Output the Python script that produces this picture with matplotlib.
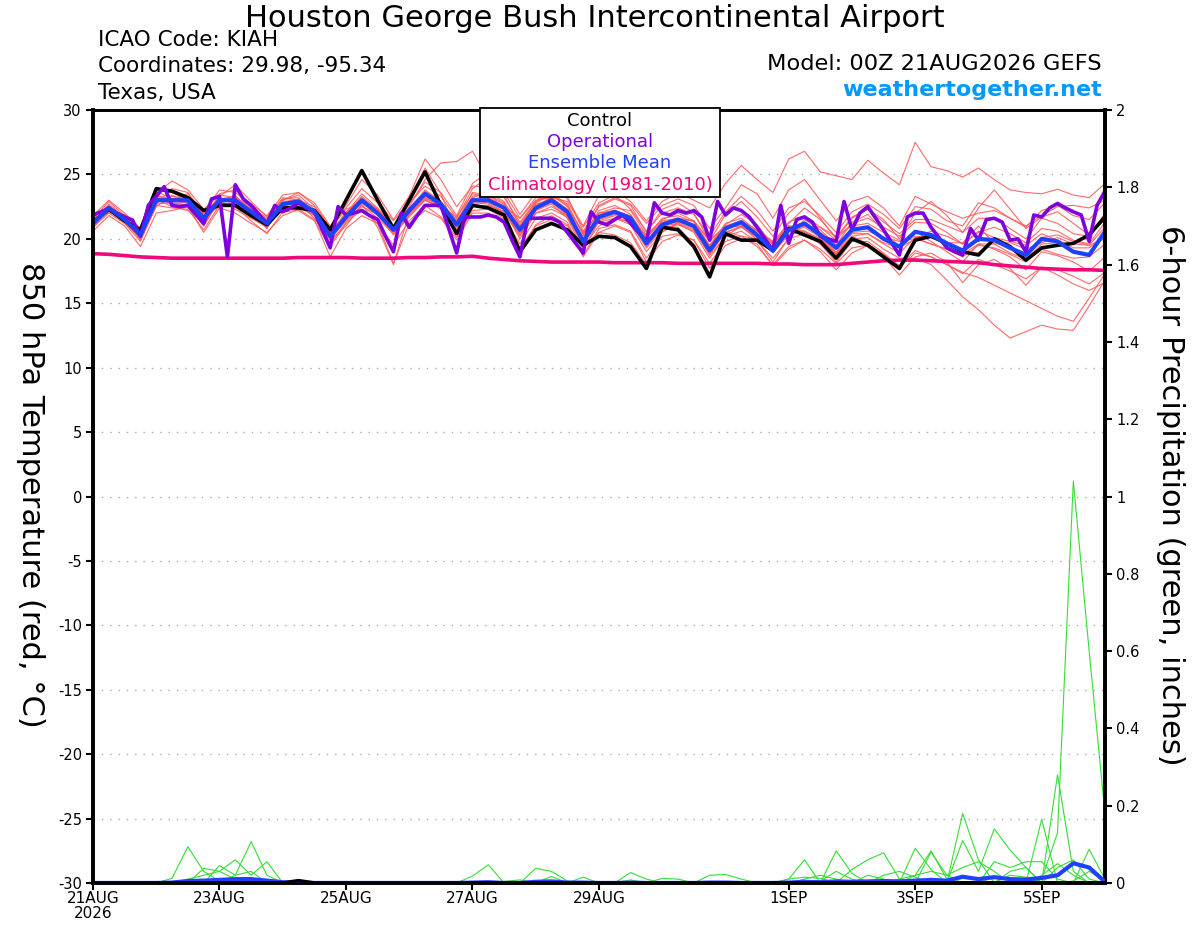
import numpy as np
import matplotlib
matplotlib.use('Agg')
import matplotlib.pyplot as plt
from matplotlib.patches import Rectangle

plt.rcParams['font.family'] = ['DejaVu Sans']
plt.rcParams['axes.unicode_minus'] = False

# forecast hours (6-hourly for ensemble, 3-hourly for operational run)
hours = np.arange(0, 385, 6)
hours_op = np.arange(0, 385, 3)

tick_hours = [0, 48, 96, 144, 192, 264, 312, 360]
tick_labels = ['21AUG\n2026', '23AUG', '25AUG', '27AUG', '29AUG', '1SEP', '3SEP', '5SEP']

# 850 hPa temperature (C)
ens_mean = [21.2, 22.4, 21.5, 20.3, 23.0, 23.0, 23.0, 21.6, 23.0, 23.0, 22.1, 21.2,
            22.7, 22.9, 22.1, 20.2, 21.7, 23.0, 22.0, 20.7, 22.2, 23.5, 22.7, 21.1,
            23.0, 23.0, 22.4, 20.7, 22.4, 23.0, 22.1, 19.8, 21.7, 22.1, 21.6, 19.65,
            21.1, 21.5, 21.0, 19.1, 20.8, 21.3, 20.3, 19.1, 20.7, 21.2, 20.3, 19.3,
            20.7, 20.9, 20.0, 19.4, 20.55, 20.3, 19.65, 19.1, 20.0, 19.9, 19.3, 18.75,
            20.0, 19.8, 19.0, 18.75, 20.55]

control = [21.3, 22.3, 21.4, 20.7, 23.9, 23.7, 23.2, 22.2, 22.6, 22.6, 21.8, 21.1,
           22.4, 22.4, 22.2, 20.7, 23.0, 25.3, 23.0, 20.8, 23.0, 25.2, 22.6, 20.4,
           22.6, 22.4, 21.85, 19.0, 20.7, 21.2, 20.7, 19.5, 20.2, 20.1, 19.4, 17.7,
           20.9, 20.7, 19.4, 17.05, 20.4, 19.9, 19.9, 19.1, 20.8, 20.3, 19.8, 18.5,
           20.0, 19.5, 18.6, 17.7, 19.9, 20.2, 19.65, 19.0, 18.75, 20.0, 19.4, 18.35,
           19.3, 19.5, 19.65, 20.3, 21.7]

climatology = [18.85, 18.8, 18.7, 18.6, 18.55, 18.5, 18.5, 18.5, 18.5, 18.5, 18.5, 18.5,
               18.5, 18.55, 18.55, 18.55, 18.55, 18.5, 18.5, 18.5, 18.55, 18.55, 18.6, 18.6,
               18.65, 18.5, 18.4, 18.3, 18.25, 18.2, 18.2, 18.2, 18.2, 18.15, 18.15, 18.15,
               18.15, 18.1, 18.1, 18.1, 18.1, 18.1, 18.1, 18.05, 18.05, 18.0, 18.0, 18.0,
               18.1, 18.2, 18.3, 18.35, 18.35, 18.3, 18.25, 18.2, 18.15, 18.0, 17.9, 17.8,
               17.7, 17.65, 17.6, 17.6, 17.55]

operational = [21.85, 22.1, 22.37, 22.0, 21.7, 21.46, 20.2, 22.6, 23.3, 24.05, 22.6, 22.5,
               22.6, 21.9, 21.2, 23.1, 23.3, 18.6, 24.2, 23.1, 22.6, 21.9, 21.2, 22.6,
               22.1, 22.4, 22.8, 22.4, 22.1, 20.7, 19.3, 22.5, 21.85, 22.0, 22.2, 21.8,
               21.5, 20.2, 19.0, 22.0, 20.9, 21.8, 22.6, 22.6, 22.6, 20.8, 18.9, 21.7,
               21.7, 21.7, 21.85, 21.7, 21.3, 19.9, 18.6, 21.6, 21.6, 21.6, 21.6, 21.3,
               20.5, 19.7, 18.9, 22.1, 21.3, 21.1, 21.5, 21.85, 21.2, 20.5, 19.8, 22.8,
               22.0, 21.85, 22.2, 22.0, 22.2, 21.7, 19.9, 22.9, 21.85, 22.4, 22.2, 21.7,
               20.9, 20.0, 19.1, 22.6, 19.65, 21.5, 21.7, 21.3, 20.2, 20.0, 19.8, 22.9,
               20.7, 22.0, 22.5, 21.6, 20.7, 19.7, 18.75, 21.7, 22.0, 22.0, 20.9, 20.1,
               19.3, 19.0, 18.75, 20.8, 19.9, 21.5, 21.6, 21.3, 19.9, 20.0, 19.0, 21.85,
               21.7, 22.4, 22.75, 22.4, 22.1, 21.85, 19.8, 22.6, 23.7]

# ensemble members (temperature)
m01 = [21.5, 22.9, 21.8, 20.6, 23.5, 24.5, 23.8, 22.3, 23.4, 23.2, 22.5, 21.6, 23.0, 23.6, 22.6, 20.9,
       22.6, 24.6, 23.4, 21.5, 23.3, 26.2, 24.6, 22.5, 24.1, 24.0, 23.2, 21.3, 22.9, 23.9, 23.3, 20.6,
       22.5, 23.1, 22.6, 20.5, 22.3, 22.8, 22.0, 19.8, 21.9, 22.9, 21.7, 20.2, 22.0, 23.1, 21.6, 20.0,
       21.6, 22.3, 21.3, 20.4, 21.5, 21.5, 21.0, 20.5, 21.6, 21.6, 20.8, 20.0, 21.6, 21.2, 20.4, 20.2, 22.0]
m02 = [20.9, 22.0, 21.2, 19.8, 22.6, 22.4, 22.3, 20.7, 22.6, 22.5, 21.4, 20.4, 22.1, 22.2, 21.4, 19.4,
       21.2, 22.3, 21.2, 19.5, 21.4, 22.6, 21.7, 20.1, 22.2, 22.3, 21.6, 19.6, 21.6, 22.0, 21.3, 18.7,
       20.8, 21.1, 20.6, 18.5, 20.2, 20.4, 19.9, 18.1, 19.8, 20.2, 19.4, 18.0, 19.4, 19.9, 19.2, 18.1,
       19.3, 19.5, 18.7, 17.8, 18.9, 18.6, 18.0, 17.3, 18.4, 18.0, 17.5, 16.9, 17.8, 17.6, 17.1, 16.5, 17.4]
m03 = [21.4, 22.5, 21.6, 20.0, 23.3, 23.1, 22.8, 21.3, 23.5, 23.8, 22.6, 21.4, 23.0, 23.4, 22.3, 20.4,
       22.0, 23.5, 22.4, 21.0, 22.7, 24.4, 23.6, 21.8, 24.3, 25.2, 24.0, 21.9, 23.6, 24.3, 23.1, 21.0,
       23.4, 23.8, 22.9, 21.4, 22.9, 23.6, 23.0, 22.4, 24.3, 25.7, 24.6, 23.6, 26.2, 26.8, 25.2, 24.9,
       24.6, 26.1, 25.1, 24.2, 27.5, 25.6, 25.3, 24.8, 25.5, 24.6, 23.8, 23.6, 23.5, 23.85, 23.4, 23.2, 24.3]
m04 = [21.0, 22.2, 21.3, 20.1, 22.8, 23.3, 23.1, 21.4, 22.7, 22.6, 21.8, 21.0, 22.4, 22.5, 21.8, 20.0,
       21.4, 22.6, 21.6, 20.4, 21.8, 23.1, 22.3, 20.6, 22.5, 22.6, 22.1, 20.3, 22.0, 22.5, 21.8, 19.6,
       21.3, 21.6, 21.3, 19.4, 20.8, 21.1, 20.6, 18.8, 20.5, 20.9, 20.1, 18.9, 20.3, 20.6, 19.8, 18.8,
       20.0, 20.1, 19.2, 18.5, 18.5, 18.0, 16.8, 15.5, 14.5, 13.3, 12.3, 12.8, 13.3, 13.0, 12.9, 14.8, 16.8]
m05 = [21.3, 22.6, 21.6, 20.2, 23.0, 22.8, 22.6, 21.0, 23.1, 23.3, 22.3, 21.1, 22.8, 23.1, 22.0, 20.1,
       21.9, 23.3, 22.3, 20.9, 22.3, 23.8, 22.9, 21.2, 23.1, 23.3, 22.7, 20.9, 22.6, 23.2, 22.3, 20.0,
       21.9, 22.2, 21.7, 19.8, 21.2, 21.3, 20.8, 18.7, 20.2, 20.6, 19.8, 18.5, 20.0, 20.4, 19.6, 18.2,
       19.8, 19.8, 18.9, 17.9, 19.1, 18.6, 18.0, 17.4, 17.0, 16.4, 15.8, 15.2, 14.6, 14.0, 13.6, 15.4, 17.3]
m06 = [21.7, 22.5, 21.3, 20.5, 23.8, 23.6, 23.0, 22.0, 22.7, 22.8, 21.9, 21.0, 22.5, 22.6, 22.3, 20.6,
       23.1, 25.4, 23.2, 20.6, 23.1, 25.5, 23.5, 20.5, 22.8, 22.7, 22.0, 19.3, 21.0, 21.5, 21.0, 19.5,
       20.5, 20.3, 19.7, 18.0, 21.0, 20.9, 19.6, 17.3, 20.6, 20.2, 20.0, 19.3, 21.0, 20.5, 20.0, 18.8,
       20.2, 19.6, 18.8, 17.9, 20.1, 20.3, 19.6, 19.0, 18.9, 19.9, 19.4, 18.4, 19.6, 19.7, 19.6, 20.5, 21.7]
m07 = [21.0, 22.1, 21.6, 19.9, 22.5, 23.4, 22.7, 21.8, 23.3, 24.2, 22.9, 21.7, 23.1, 23.2, 22.0, 19.6,
       21.3, 22.5, 21.9, 20.3, 21.7, 23.0, 22.4, 21.3, 23.6, 23.4, 22.8, 21.2, 22.8, 23.4, 22.6, 20.3,
       22.2, 22.6, 21.9, 20.1, 21.6, 21.8, 21.3, 19.5, 21.2, 21.6, 20.6, 19.7, 21.3, 21.8, 20.9, 19.9,
       21.2, 21.6, 20.9, 20.2, 21.3, 21.2, 20.5, 19.6, 20.5, 20.9, 20.4, 19.7, 20.8, 20.6, 19.9, 19.6, 21.3]
m08 = [20.6, 21.8, 21.0, 19.4, 22.0, 22.2, 22.5, 20.5, 22.4, 22.0, 21.2, 20.5, 21.8, 22.3, 21.5, 18.6,
       20.8, 21.8, 21.2, 18.1, 21.2, 22.2, 21.6, 19.9, 22.0, 22.0, 21.5, 19.0, 21.1, 21.8, 21.1, 18.6,
       20.5, 21.0, 20.5, 18.2, 19.8, 20.3, 19.9, 17.7, 19.5, 20.0, 19.6, 17.9, 19.2, 19.9, 19.0, 17.6,
       18.9, 19.5, 18.6, 17.2, 18.6, 18.9, 18.2, 16.6, 18.0, 18.4, 17.7, 16.4, 17.8, 17.2, 16.5, 16.0, 16.6]
m09 = [21.8, 23.0, 22.0, 20.8, 23.4, 23.0, 23.3, 22.1, 23.8, 23.6, 22.7, 21.8, 23.4, 23.6, 22.8, 21.0,
       22.4, 23.9, 22.8, 21.4, 22.8, 24.1, 23.3, 21.6, 23.9, 24.8, 23.6, 21.6, 23.0, 23.2, 22.9, 20.9,
       22.8, 23.4, 22.3, 20.6, 22.0, 22.4, 21.9, 20.2, 22.1, 23.3, 22.2, 20.6, 22.4, 22.9, 21.8, 20.5,
       22.1, 22.7, 21.9, 20.8, 22.5, 22.3, 21.4, 21.0, 22.8, 22.4, 21.6, 20.9, 22.2, 22.6, 21.8, 21.5, 22.8]
m10 = [21.1, 22.3, 21.4, 20.0, 23.1, 22.5, 22.2, 21.2, 22.9, 23.4, 22.0, 20.8, 22.9, 23.0, 21.9, 20.3,
       21.6, 23.2, 22.1, 20.9, 22.4, 23.7, 22.9, 21.4, 23.3, 23.6, 22.9, 20.4, 22.2, 22.7, 21.6, 19.1,
       21.4, 21.8, 21.2, 19.3, 20.6, 21.2, 20.5, 18.5, 20.2, 21.0, 19.9, 18.2, 20.1, 21.5, 20.7, 19.5,
       21.3, 21.9, 20.6, 19.4, 20.6, 19.8, 19.0, 18.2, 19.6, 19.2, 18.6, 17.6, 19.0, 18.7, 18.2, 17.5, 18.6]
m11 = [21.4, 22.2, 21.2, 20.3, 22.7, 23.9, 23.6, 21.9, 23.1, 23.1, 21.8, 20.9, 22.6, 22.8, 21.6, 19.9,
       21.0, 22.7, 20.9, 18.0, 22.0, 23.2, 22.5, 20.6, 23.2, 23.6, 22.2, 20.0, 22.0, 22.3, 21.7, 19.4,
       21.0, 21.6, 21.1, 19.0, 20.5, 21.3, 21.1, 19.5, 20.9, 21.0, 20.4, 19.6, 20.9, 20.6, 20.0, 18.9,
       20.2, 20.4, 19.7, 19.3, 20.0, 19.6, 19.2, 18.8, 19.6, 19.6, 18.9, 18.4, 20.1, 20.3, 19.8, 19.5, 20.9]
m12 = [21.3, 22.7, 21.7, 20.4, 23.2, 22.7, 22.9, 21.0, 23.0, 22.3, 21.6, 20.9, 22.4, 22.4, 21.9, 20.4,
       22.1, 23.1, 22.3, 20.8, 22.5, 24.6, 25.9, 26.0, 26.8, 24.6, 23.4, 21.0, 22.9, 23.5, 22.7, 20.4,
       22.0, 22.4, 22.2, 20.3, 21.5, 22.0, 21.4, 19.4, 21.1, 21.9, 21.1, 19.5, 21.2, 22.4, 21.5, 20.1,
       21.7, 22.3, 21.5, 20.0, 22.0, 22.9, 21.8, 20.5, 22.4, 23.8, 22.3, 20.8, 21.7, 22.1, 21.2, 20.3, 21.5]
m13 = [21.6, 22.0, 21.9, 20.7, 23.7, 23.1, 23.5, 21.7, 22.5, 22.9, 22.4, 21.5, 23.2, 23.0, 22.5, 20.8,
       22.3, 22.8, 22.0, 21.0, 22.0, 23.0, 22.5, 21.7, 23.5, 23.2, 22.5, 21.6, 23.2, 23.1, 21.8, 20.2,
       21.8, 22.0, 21.4, 20.3, 21.4, 21.6, 21.4, 19.9, 21.0, 21.4, 20.7, 19.8, 21.0, 21.0, 20.9, 20.2,
       21.0, 21.2, 20.5, 19.9, 20.0, 20.6, 20.2, 19.6, 20.6, 20.1, 19.8, 19.5, 20.4, 19.9, 19.3, 19.3, 20.3]
m14 = [20.8, 22.5, 21.5, 20.4, 22.9, 22.9, 22.9, 21.6, 23.2, 22.9, 22.3, 21.3, 22.8, 22.7, 22.2, 20.5,
       21.8, 23.0, 22.2, 20.9, 22.4, 23.3, 22.8, 21.5, 23.0, 23.1, 22.6, 21.0, 22.7, 23.0, 22.3, 20.5,
       22.0, 22.2, 21.8, 20.1, 21.3, 21.5, 21.4, 19.8, 21.0, 21.1, 20.6, 19.8, 20.6, 21.0, 20.5, 19.7,
       20.5, 20.6, 20.1, 19.8, 20.2, 20.1, 19.7, 19.7, 21.0, 19.6, 19.7, 19.2, 19.7, 20.1, 19.6, 19.5, 20.0]
m15 = [21.2, 22.3, 21.3, 20.0, 22.7, 22.8, 22.6, 21.3, 22.9, 23.1, 22.0, 21.2, 22.6, 22.8, 21.9, 19.9,
       21.5, 22.8, 21.8, 20.5, 21.9, 23.2, 22.6, 20.8, 22.9, 22.8, 22.1, 20.2, 22.2, 23.4, 22.5, 20.4,
       22.6, 23.2, 22.7, 21.2, 22.6, 23.1, 22.6, 20.8, 22.4, 24.2, 23.5, 21.6, 23.8, 24.6, 23.0, 21.4,
       22.9, 23.3, 22.4, 21.0, 23.3, 22.7, 22.1, 21.6, 22.0, 22.2, 21.6, 21.0, 21.8, 22.5, 22.6, 22.4, 23.0]
m16 = [21.5, 22.4, 21.7, 20.7, 23.2, 23.1, 23.2, 21.9, 23.2, 22.8, 22.2, 21.0, 22.6, 22.8, 22.0, 20.1,
       21.7, 22.9, 22.1, 20.9, 22.2, 23.6, 22.9, 21.2, 22.7, 22.4, 22.0, 20.5, 22.3, 22.8, 21.8, 19.8,
       21.5, 21.9, 21.4, 19.6, 21.0, 21.2, 20.7, 18.9, 20.5, 21.0, 20.1, 19.0, 20.6, 20.9, 20.1, 19.0,
       20.4, 20.4, 19.6, 18.9, 20.1, 19.6, 19.2, 18.6, 19.5, 19.3, 18.8, 18.2, 19.2, 18.8, 18.5, 18.6, 19.6]
temp_members = [m01, m02, m03, m04, m05, m06, m07, m08, m09, m10, m11, m12, m13, m14, m15, m16]

# 6-hour precipitation (inches); members given as {forecast hour: amount}, zero elsewhere
p01 = {30: 0.012, 36: 0.094, 42: 0.03, 48: 0.005, 144: 0.018, 150: 0.047, 264: 0.01, 270: 0.06,
       330: 0.11, 336: 0.03, 342: 0.14, 348: 0.085, 354: 0.04, 366: 0.28, 372: 0.03}
p02 = {42: 0.038, 48: 0.03, 54: 0.06, 60: 0.02, 66: 0.055, 168: 0.038, 174: 0.03, 180: 0.005,
       204: 0.027, 210: 0.01, 282: 0.083, 288: 0.025, 312: 0.09, 318: 0.035, 360: 0.165}
p03 = {48: 0.045, 54: 0.02, 60: 0.107, 66: 0.02, 174: 0.017, 186: 0.015, 234: 0.02, 240: 0.022,
       246: 0.01, 288: 0.035, 294: 0.06, 300: 0.078, 306: 0.01, 330: 0.18, 336: 0.06,
       360: 0.01, 366: 0.13, 372: 1.04, 378: 0.6, 384: 0.18}
p04 = {36: 0.01, 42: 0.02, 48: 0.03, 54: 0.01, 276: 0.005, 282: 0.03, 288: 0.01, 312: 0.02,
       318: 0.083, 324: 0.01, 342: 0.055, 348: 0.04, 354: 0.055, 360: 0.055, 366: 0.01,
       378: 0.087, 384: 0.01}
p05 = {204: 0.008, 216: 0.012, 222: 0.01, 270: 0.01, 276: 0.02, 282: 0.01, 294: 0.02, 300: 0.01,
       318: 0.08, 324: 0.02, 330: 0.04, 336: 0.055, 342: 0.03, 360: 0.02, 366: 0.05, 372: 0.02}
p06 = {54: 0.02, 60: 0.03, 306: 0.01, 312: 0.02, 318: 0.03, 324: 0.02, 348: 0.03, 354: 0.04,
       372: 0.005, 378: 0.03, 384: 0.005}
p07 = {156: 0.004, 162: 0.008, 264: 0.01, 270: 0.015, 276: 0.012, 300: 0.02, 306: 0.03,
       312: 0.015, 330: 0.02, 336: 0.01, 348: 0.02, 354: 0.015, 366: 0.04, 372: 0.06, 378: 0.01}
precip_members = [p01, p02, p03, p04, p05, p06, p07]

precip_mean = [0, 0, 0, 0, 0, 0.001, 0.005, 0.006, 0.008, 0.01, 0.01, 0.006, 0.002, 0, 0, 0,
               0, 0, 0, 0, 0, 0, 0, 0, 0.001, 0.002, 0, 0, 0.003, 0.004, 0.001, 0.001,
               0, 0, 0.001, 0, 0, 0, 0, 0.001, 0.001, 0, 0, 0, 0.001, 0.003, 0.002, 0.004,
               0.003, 0.004, 0.005, 0.004, 0.006, 0.008, 0.006, 0.016, 0.01, 0.015, 0.01, 0.009,
               0.013, 0.02, 0.051, 0.04, 0.003]
precip_control = [0, 0, 0, 0, 0, 0, 0, 0, 0, 0, 0, 0, 0, 0.006, 0, 0,
                  0, 0, 0, 0, 0, 0, 0, 0, 0, 0, 0, 0, 0, 0, 0, 0,
                  0, 0, 0, 0, 0, 0, 0, 0, 0, 0, 0, 0, 0, 0, 0, 0,
                  0, 0, 0, 0, 0, 0, 0, 0, 0, 0, 0, 0, 0, 0, 0, 0, 0]

# colours
c_member = '#ff5a5a'
c_green = '#35dd35'
c_oper = '#7f00df'
c_mean = '#2040ff'
c_clim = '#f0087c'

fig = plt.figure(figsize=(12, 9.27), dpi=100)
ax = fig.add_axes([0.0775, 0.0475, 0.8433, 0.8338])

for yv in range(-25, 30, 5):
    ax.axhline(yv, color='#aaaaaa', lw=1.0, linestyle=(0, (1, 5)), zorder=0)

for m in temp_members:
    ax.plot(hours, m, color=c_member, lw=0.8, alpha=0.9, zorder=1)
ax.plot(hours, climatology, color=c_clim, lw=2.6, zorder=3)
ax.plot(hours, control, color='black', lw=2.6, zorder=4)
ax.plot(hours_op, operational, color=c_oper, lw=2.6, zorder=5)
ax.plot(hours, ens_mean, color=c_mean, lw=3.0, zorder=6)

ax.set_xlim(0, 384)
ax.set_ylim(-30, 30)
ax.set_yticks(range(-30, 31, 5))
ax.set_xticks(tick_hours)
ax.set_xticklabels(tick_labels)
ax.tick_params(axis='y', direction='out', length=5, width=1.5, labelsize=10.5, pad=3)
ax.tick_params(axis='x', direction='out', length=5, width=1.5, labelsize=11, pad=1)
for lbl in ax.get_xticklabels():
    lbl.set_linespacing(1.0)

ax2 = ax.twinx()
for p in precip_members:
    vals = [p.get(h, 0.0) for h in hours]
    ax2.plot(hours, vals, color=c_green, lw=0.8, zorder=1)
ax2.plot(hours, precip_mean, color=c_mean, lw=3.0, zorder=3)
ax2.plot(hours, precip_control, color='black', lw=2.6, zorder=4)
ax2.set_ylim(0, 2)
ax2.set_yticks(np.arange(0, 2.01, 0.2))
ax2.set_yticklabels(['0', '0.2', '0.4', '0.6', '0.8', '1', '1.2', '1.4', '1.6', '1.8', '2'])
ax2.tick_params(axis='y', direction='out', length=5, width=1.5, labelsize=10.5, pad=3)

for a in (ax, ax2):
    for side in ('left', 'right', 'bottom'):
        a.spines[side].set_linewidth(2.6)
    a.spines['top'].set_linewidth(2.0)

# axis titles
fig.text(0.025, 0.466, '850 hPa Temperature (red, \u00b0C)', rotation=270,
         ha='center', va='center', fontsize=22)
fig.text(0.975, 0.466, '6-hour Precipitation (green, inches)', rotation=270,
         ha='center', va='center', fontsize=22)

# header
fig.text(0.496, 0.980, 'Houston George Bush Intercontinental Airport', ha='center', va='center',
         fontsize=22)
fig.text(0.0817, 0.957, 'ICAO Code: KIAH', ha='left', va='center', fontsize=15.5)
fig.text(0.0817, 0.929, 'Coordinates: 29.98, -95.34', ha='left', va='center', fontsize=15.5)
fig.text(0.0817, 0.900, 'Texas, USA', ha='left', va='center', fontsize=15.5)
fig.text(0.918, 0.931, 'Model: 00Z 21AUG2026 GEFS', ha='right', va='center', fontsize=16.2)
fig.text(0.918, 0.903, 'weathertogether.net', ha='right', va='center', fontsize=16,
         fontweight='bold', color='#0099ff')

# legend box
fig.add_artist(Rectangle((0.400, 0.7875), 0.200, 0.0960, transform=fig.transFigure,
                         facecolor='white', edgecolor='black', lw=1.3, zorder=10))
legend_items = [('Control', 'black', 0.8695), ('Operational', c_oper, 0.8468),
                ('Ensemble Mean', c_mean, 0.8242), ('Climatology (1981-2010)', c_clim, 0.8004)]
for txt, col, yy in legend_items:
    fig.text(0.5, yy, txt, ha='center', va='center', fontsize=13, color=col, zorder=11)

fig.savefig('out.png', dpi=100)
